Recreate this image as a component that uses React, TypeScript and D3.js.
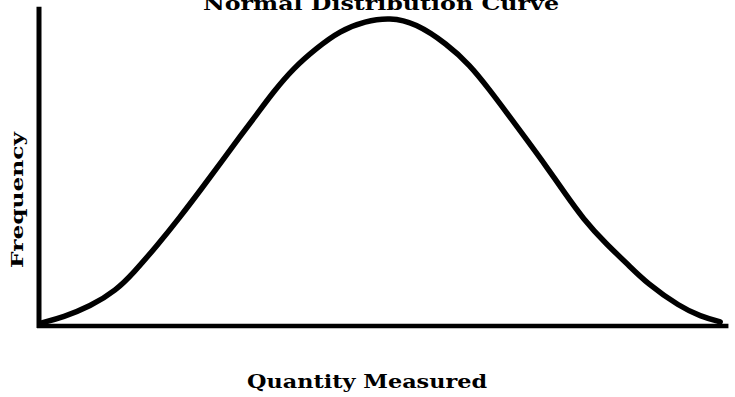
import React from "react";
import * as d3 from "d3";

// Points along the bell-shaped frequency curve (quantity 0–100, frequency 0–100)
const quantity = [0.7, 3.8, 7.7, 11.6, 14.0, 17.4, 20.8, 24.1, 27.0, 29.5, 32.0, 34.3, 37.2, 40.7, 44.0, 47.7, 51.3, 55.0, 59.6, 62.9, 65.8, 68.3, 71.2, 74.1, 76.5, 79.4, 82.8, 85.8, 88.6, 93.5, 96.4, 99.3];
const frequency = [0.7, 2.6, 6.0, 11.5, 17.0, 25.8, 35.3, 45.1, 53.9, 61.6, 69.0, 76.0, 83.8, 90.6, 96.1, 99.3, 100.5, 98.7, 91.8, 85.0, 76.8, 69.3, 60.5, 51.6, 43.8, 34.6, 26.3, 20.0, 13.7, 5.9, 2.9, 1.0];

const title = "Normal Distribution Curve";
const xLabel = "Quantity Measured";
const yLabel = "Frequency";

const W = 735;
const H = 397;
const FONT = "'DejaVu Serif', 'Liberation Serif', serif";

export default function App() {
  const x = d3.scaleLinear().domain([0, 100]).range([37, 725]);
  const y = d3.scaleLinear().domain([0, 100]).range([325, 19]);

  const points: [number, number][] = quantity.map((q, i) => [q, frequency[i]]);
  const line = d3
    .line<[number, number]>()
    .x((d) => x(d[0]))
    .y((d) => y(d[1]))
    .curve(d3.curveBasis);

  const x0 = x(0);
  const y0 = y(0);

  return (
    <svg
      width={W}
      height={H}
      viewBox={`0 0 ${W} ${H}`}
      style={{ position: "absolute", left: 0, top: 0, background: "#fff" }}
    >
      <rect width={W} height={H} fill="#fff" />
      {/* axes */}
      <line x1={x0 + 2} y1={y(104)} x2={x0 + 2} y2={y0 + 3} stroke="#000" strokeWidth={5} />
      <line x1={x0} y1={y0 + 1} x2={x(100.5)} y2={y0 + 1} stroke="#000" strokeWidth={4.5} />
      {/* curve */}
      <path
        d={line(points) || ""}
        fill="none"
        stroke="#000"
        strokeWidth={5.5}
        strokeLinecap="round"
        strokeLinejoin="round"
      />
      {/* title */}
      <text
        x={381}
        y={10}
        textAnchor="middle"
        fontFamily={FONT}
        fontSize={19}
        fontWeight="bold"
        textLength={356}
        lengthAdjust="spacingAndGlyphs"
        fill="#000"
      >
        {title}
      </text>
      {/* axis labels */}
      <text
        x={367}
        y={388}
        textAnchor="middle"
        fontFamily={FONT}
        fontSize={18}
        fontWeight="bold"
        textLength={240}
        lengthAdjust="spacingAndGlyphs"
        fill="#000"
      >
        {xLabel}
      </text>
      <text
        transform="translate(23,200) rotate(-90)"
        textAnchor="middle"
        fontFamily={FONT}
        fontSize={17}
        fontWeight="bold"
        textLength={136}
        lengthAdjust="spacingAndGlyphs"
        fill="#000"
      >
        {yLabel}
      </text>
    </svg>
  );
}
